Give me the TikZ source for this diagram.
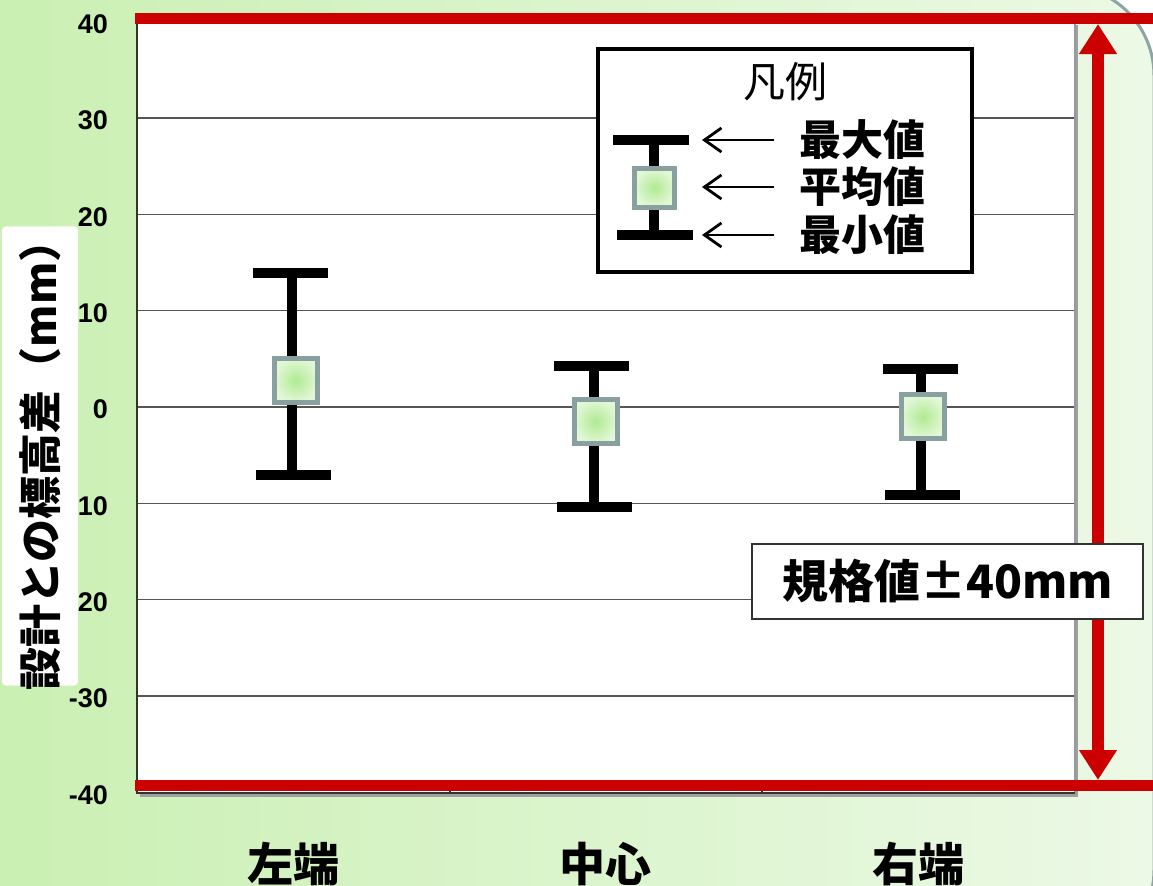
\documentclass[tikz,border=0pt]{standalone}
\usepackage{fontspec}
\setmainfont{Liberation Sans}
\newfontfamily\jp{Noto Sans CJK JP}
\usetikzlibrary{arrows.meta}
\definecolor{bgL}{RGB}{196,238,170}
\definecolor{bgR}{RGB}{236,249,230}
\definecolor{frameblue}{RGB}{140,164,166}
\definecolor{specred}{RGB}{204,0,0}
\definecolor{gridgray}{RGB}{85,85,85}
\definecolor{boxedge}{RGB}{138,160,160}
\definecolor{meanin}{RGB}{176,234,146}
\definecolor{meanout}{RGB}{226,247,214}
\begin{document}
\begin{tikzpicture}[x=1bp,y=-1bp,
  gridln/.style={draw=gridgray,line width=1.5bp},
  ticklab/.style={anchor=east,inner sep=0pt,font=\fontsize{27bp}{30bp}\selectfont\bfseries},
  redline/.style={draw=specred,line width=11bp},
  redarrow/.style={draw=specred,line width=12bp,{Triangle[length=30bp,width=36bp]}-{Triangle[length=30bp,width=36bp]}},
  errline/.style={draw=black,line width=10bp},
  barcap/.style={rectangle,fill=black,inner sep=0pt,minimum width=75bp,minimum height=10bp},
  meanbox/.style={rectangle,draw=boxedge,line width=5bp,inner color=meanin,outer color=meanout,inner sep=0pt,minimum width=43bp,minimum height=44bp},
  catlab/.style={inner sep=0pt,font=\jp\bfseries\fontsize{46bp}{50bp}\selectfont},
  leglab/.style={inner sep=0pt,font=\jp\bfseries\fontsize{42bp}{46bp}\selectfont},
  legarrow/.style={draw=black,line width=2.8bp,-{Straight Barb[length=17bp,width=24bp,line width=2.8bp]}}
]
\useasboundingbox (0,0) rectangle (1153,886);
\fill[white] (0,0) rectangle (1153,886);
\path[left color=bgL,right color=bgR,draw=frameblue,line width=3bp,rounded corners=90bp] (-200,-14.5) rectangle (1154,960);

% plot area
\fill[gray!75] (140,25) rectangle (1078,797);
\fill[white] (137,22) rectangle (1075,793);
\foreach \v in {30,20,10,0,-10,-20,-30} {
  \draw[gridln] (137,{407-9.63*\v}) -- (1075,{407-9.63*\v});
}
\draw[draw=gray!80,line width=2bp] (1075,22) -- (1075,793);
\draw[draw=black!80,line width=2bp] (137,22) -- (137,793) -- (1075,793);
\draw[draw=black!80,line width=2bp] (450,787) -- (450,793);
\draw[draw=black!80,line width=2bp] (762,787) -- (762,793);

% tick labels
\node[ticklab] (t40) at (108,{407-9.63*40+2.5}) {40};
\node[ticklab] (t30) at (108,{407-9.63*30+2.5}) {30};
\node[ticklab] (t20) at (108,{407-9.63*20+2.5}) {20};
\node[ticklab] (t10) at (108,{407-9.63*10+2.5}) {10};
\node[ticklab] (t0) at (108,{407+2.5}) {0};
\node[ticklab] (tm10) at (108,{407+9.63*10+2.5}) {10};
\node[ticklab] (tm20) at (108,{407+9.63*20+2.5}) {20};
\node[ticklab] (tm30) at (108,{407+9.63*30+2.5}) {-30};
\node[ticklab] (tm40) at (108,{407+9.63*40+2.5}) {-40};

% y axis label
\node[fill=white,rounded corners=4bp,minimum width=76bp,minimum height=459bp,inner sep=0pt] (ybox) at (40,456) {};
\node[rotate=90,inner sep=0pt,font=\jp\bfseries\fontsize{43bp}{46bp}\selectfont] (ylab) at (40,455) {設計との標高差（mm）};

% error bars
\coordinate (Ltop) at (292,273); \coordinate (Lbot) at (292,475);
\draw[errline] (Ltop) -- (Lbot);
\node[barcap] (Lcapt) at (290.5,273) {};
\node[barcap] (Lcapb) at (293.5,475) {};
\node[meanbox] (Lmean) at (296,380) {};

\coordinate (Ctop) at (594,366); \coordinate (Cbot) at (594,507);
\draw[errline] (Ctop) -- (Cbot);
\node[barcap] (Ccapt) at (591.5,366) {};
\node[barcap] (Ccapb) at (594.5,507) {};
\node[meanbox] (Cmean) at (595.5,421.5) {};

\coordinate (Rtop) at (921,369); \coordinate (Rbot) at (921,495);
\draw[errline] (Rtop) -- (Rbot);
\node[barcap] (Rcapt) at (920,369) {};
\node[barcap] (Rcapb) at (922.5,495) {};
\node[meanbox] (Rmean) at (923,416.5) {};

% category labels
\node[catlab] (catL) at (293,864) {左端};
\node[catlab] (catC) at (605,864) {中心};
\node[catlab] (catR) at (918,864) {右端};

% legend
\node[draw=black,fill=white,line width=4.5bp,minimum width=374bp,minimum height=223bp,inner sep=0pt] (legend) at (785,160.5) {};
\node[inner sep=0pt,font=\jp\fontsize{42bp}{46bp}\selectfont] (legtitle) at (785,82) {凡例};
\coordinate (Gtop) at (654,140); \coordinate (Gbot) at (654,235);
\draw[errline] (Gtop) -- (Gbot);
\node[barcap,minimum width=76bp] (Gcapt) at (651,140) {};
\node[barcap,minimum width=76bp] (Gcapb) at (654.5,235) {};
\node[meanbox,minimum width=40bp,minimum height=39bp] (Gmean) at (654.5,187.5) {};
\coordinate (a1s) at (774,140); \coordinate (a1e) at (702,140);
\coordinate (a2s) at (774,187); \coordinate (a2e) at (702,187);
\coordinate (a3s) at (774,235); \coordinate (a3e) at (702,235);
\draw[legarrow] (a1s) -- (a1e);
\draw[legarrow] (a2s) -- (a2e);
\draw[legarrow] (a3s) -- (a3e);
\node[leglab] (lmax) at (862,140) {最大値};
\node[leglab] (lavg) at (862,187) {平均値};
\node[leglab] (lmin) at (862,235) {最小値};

% specification lines and arrow
\draw[redline] (135,18.5) -- (1153,18.5);
\draw[redline] (135,785) -- (1153,785);
\coordinate (ArrTop) at (1098,24);
\coordinate (ArrBot) at (1098,780);
\draw[redarrow] (ArrTop) -- (ArrBot);

\node[draw=black!80,fill=white,line width=2bp,minimum width=391bp,minimum height=75bp,inner sep=0pt,font=\jp\bfseries\fontsize{46bp}{50bp}\selectfont] (spec) at (947.5,581.5) {規格値±40mm};
\end{tikzpicture}
\end{document}
